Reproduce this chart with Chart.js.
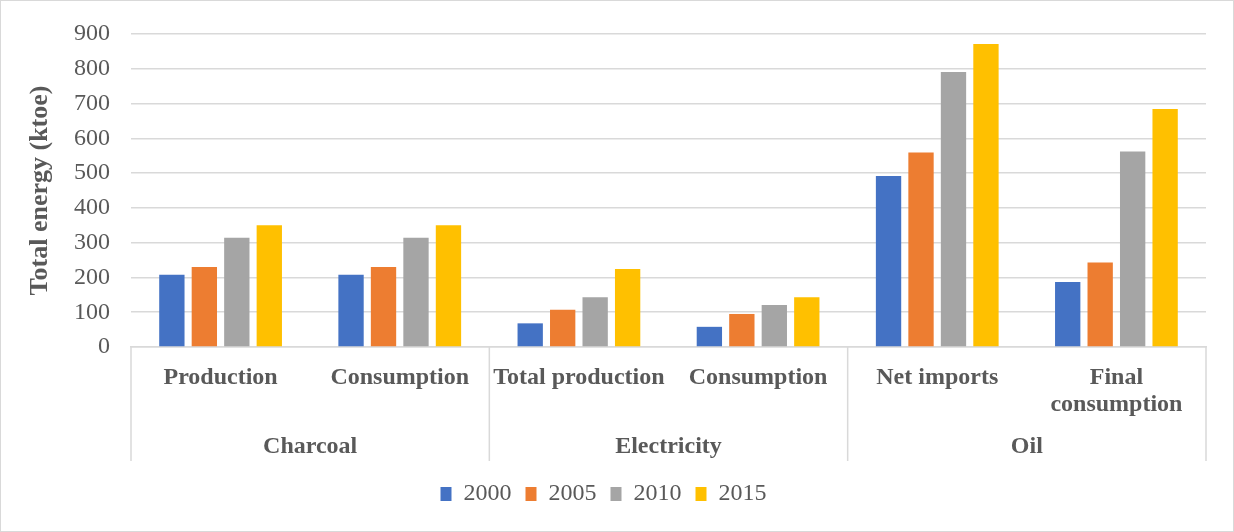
<!DOCTYPE html>
<html>
<head>
<meta charset="utf-8">
<script src="https://cdn.jsdelivr.net/npm/chart.js@4/dist/chart.umd.min.js"></script>
<style>
    body { margin: 0; background: #fff; }
    #wrap { width: 1232px; height: 530px; border: 1px solid #d9d9d9; }
</style>
</head>
<body>
<div id="wrap"><canvas id="energyChart" width="1232" height="530"></canvas></div>
<script>
const categories = [['Production'], ['Consumption'], ['Total production'], ['Consumption'], ['Net imports'], ['Final', 'consumption']];
const groups = ['Charcoal', 'Electricity', 'Oil'];
const groupOf = [0, 0, 1, 1, 2, 2];
const years = ['2000', '2005', '2010', '2015'];
const y2000 = [208, 208, 68, 58, 492, 187];
const y2005 = [230, 230, 107, 95, 559, 243];
const y2010 = [314, 314, 143, 121, 791, 562];
const y2015 = [350, 350, 224, 143, 871, 684];
const colors = ['#4472C4', '#ED7D31', '#A5A5A5', '#FFC000'];

const FONT = '"Liberation Serif", "Times New Roman", serif';
const TEXT = '#595959';

// vertical separators between the category groups
Chart.register({
    id: 'groupDividers',
    afterDraw(chart) {
        const { ctx } = chart;
        const x = chart.scales.x;
        const x2 = chart.scales.x2;
        const cuts = [x.left, x.right];
        for (let i = 1; i < groupOf.length; i++) {
            if (groupOf[i] !== groupOf[i - 1]) {
                cuts.push((x.getPixelForValue(i - 1) + x.getPixelForValue(i)) / 2);
            }
        }
        ctx.save();
        ctx.strokeStyle = '#d9d9d9';
        ctx.lineWidth = 1.5;
        cuts.forEach(px => {
            ctx.beginPath();
            ctx.moveTo(px, x.top);
            ctx.lineTo(px, x2.bottom - 7);
            ctx.stroke();
        });
        ctx.restore();
    }
});

const ctx = document.getElementById('energyChart').getContext('2d');
new Chart(ctx, {
    type: 'bar',
    data: {
        labels: categories,
        datasets: [y2000, y2005, y2010, y2015].map((vals, i) => ({
            label: years[i],
            data: vals,
            backgroundColor: colors[i],
            borderWidth: 0,
            barPercentage: 0.78,
            categoryPercentage: 0.725
        }))
    },
    options: {
        responsive: false,
        animation: false,
        layout: { padding: { top: 33, right: 27, bottom: 15, left: 0 } },
        plugins: {
            tooltip: { enabled: false },
            legend: {
                position: 'bottom',
                labels: {
                    boxWidth: 11,
                    boxHeight: 14,
                    padding: 14,
                    color: TEXT,
                    font: { family: FONT, size: 24 }
                }
            }
        },
        scales: {
            y: {
                min: 0,
                max: 900,
                ticks: { stepSize: 100, color: TEXT, padding: 21, font: { family: FONT, size: 24 } },
                grid: { color: '#d9d9d9', lineWidth: 1.5, drawTicks: false },
                border: { display: false },
                title: {
                    display: true,
                    text: 'Total energy (ktoe)',
                    color: TEXT,
                    font: { family: FONT, size: 26, weight: 'bold' },
                    padding: { top: 24, bottom: 0 }
                },
                afterFit(scale) {
                    scale.width = 130;
                    scale.paddingTop = 0;
                    scale.paddingBottom = 0;
                }
            },
            x: {
                grid: { display: false, drawTicks: false },
                border: { display: true, color: '#d9d9d9', width: 1.5 },
                ticks: {
                    color: TEXT,
                    padding: 17,
                    maxRotation: 0,
                    autoSkip: false,
                    font: { family: FONT, size: 24, weight: 'bold', lineHeight: 1.125 }
                },
                afterFit(scale) { scale.height = 81; }
            },
            x2: {
                type: 'category',
                labels: groups,
                position: 'bottom',
                weight: 1,
                offset: true,
                grid: { display: false, drawTicks: false },
                border: { display: false },
                ticks: {
                    color: TEXT,
                    padding: 4,
                    maxRotation: 0,
                    font: { family: FONT, size: 24, weight: 'bold' }
                },
                afterFit(scale) { scale.height = 40; }
            }
        }
    }
});
</script>
</body>
</html>
